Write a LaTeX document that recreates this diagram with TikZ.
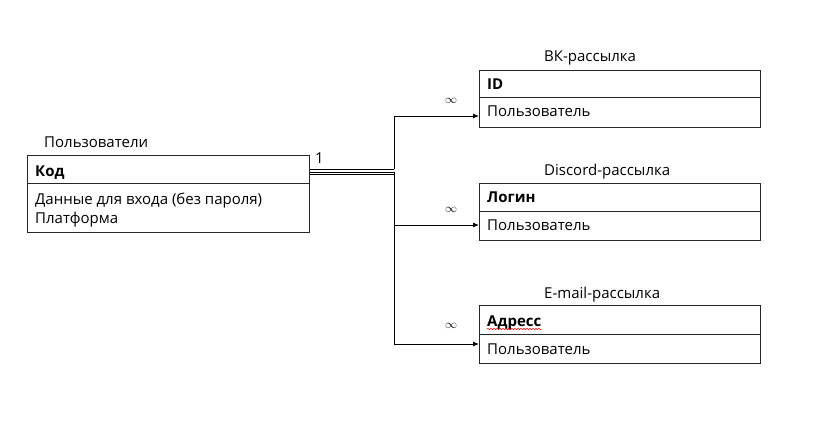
\documentclass[tikz,border=0pt]{standalone}
\usepackage{fontspec}
\setmainfont{Open Sans}
\usetikzlibrary{arrows.meta,calc,decorations.pathmorphing}
\begin{document}
\begin{tikzpicture}[x=1pt,y=-1pt,
  font=\fontsize{15}{18}\selectfont,
  tbl/.style={draw=black!85,line width=1pt,anchor=north west,inner sep=0pt},
  lbl/.style={anchor=base west,inner sep=0pt},
  hdr/.style={anchor=base west,inner sep=0pt,font=\fontsize{15}{18}\selectfont\bfseries},
  conn/.style={draw=black,line width=0.9pt},
  arr/.style={conn,-{Latex[length=6pt,width=5pt]}},
  inf/.style={inner sep=0pt,font=\fontsize{13}{13}\selectfont}
]
\useasboundingbox[fill=white] (0,0) rectangle (827,429);

% --- Users table
\node[tbl,minimum width=282,minimum height=77] (users) at (27,155) {};
\draw[draw=black!85,line width=1pt] ($(users.north west)+(0,28)$) -- ($(users.north east)+(0,28)$);
\node[lbl] (usersT) at (44,147) {Пользователи};
\node[hdr] (uk) at (35,176) {Код};
\node[lbl] (ud) at (35,204) {Данные для входа (без пароля)};
\node[lbl] (up) at (35,223.5) {Платформа};
\node[lbl] (one) at (315,163) {1};

% --- VK table
\node[tbl,minimum width=281,minimum height=57] (vk) at (479,70) {};
\draw[draw=black!85,line width=1pt] ($(vk.north west)+(0,27)$) -- ($(vk.north east)+(0,27)$);
\node[lbl] (vkT) at (544,61) {ВК-рассылка};
\node[hdr] (vkid) at (487,89.5) {ID};
\node[lbl] (vku) at (487,116.5) {Пользователь};

% --- Discord table
\node[tbl,minimum width=281,minimum height=57] (dc) at (479,183) {};
\draw[draw=black!85,line width=1pt] ($(dc.north west)+(0,28)$) -- ($(dc.north east)+(0,28)$);
\node[lbl] (dcT) at (544,175) {Discord-рассылка};
\node[hdr] (dcl) at (487,202.5) {Логин};
\node[lbl] (dcu) at (487,230.5) {Пользователь};

% --- E-mail table
\node[tbl,minimum width=281,minimum height=58] (em) at (479,305) {};
\draw[draw=black!85,line width=1pt] ($(em.north west)+(0,29)$) -- ($(em.north east)+(0,29)$);
\node[lbl] (emT) at (544,298) {E-mail-рассылка};
\node[hdr] (ema) at (487,326.5) {Адресс};
\draw[red,line width=0.5pt,decorate,decoration={snake,amplitude=0.8pt,segment length=3pt}]
  ($(ema.base west)+(0,2.5)$) -- ($(ema.base east)+(0,2.5)$);
\node[lbl] (emu) at (487,354) {Пользователь};

% --- connectors
\coordinate (s1) at ($(users.north east)+(0,14.3)$);
\coordinate (s2) at ($(users.north east)+(0,17)$);
\coordinate (s3) at ($(users.north east)+(0,19.3)$);
\coordinate (j1) at (394,169.3);
\coordinate (j2) at (394,172);
\coordinate (j3) at (394,174.3);
\draw[conn] (s1) -- (j1);
\draw[conn] (s2) -- (j2);
\draw[conn] (s3) -- (j3);
\draw[arr] (j1) |- ($(vk.north west)+(0,46)$);
\draw[arr] (j2) |- ($(dc.north west)+(0,42)$);
\draw[arr] (j2) |- ($(em.north west)+(0,39)$);

\node[inf] (i1) at (451,100.5) {$\infty$};
\node[inf] (i2) at (451,209.5) {$\infty$};
\node[inf] (i3) at (451,325.5) {$\infty$};
\end{tikzpicture}
\end{document}
